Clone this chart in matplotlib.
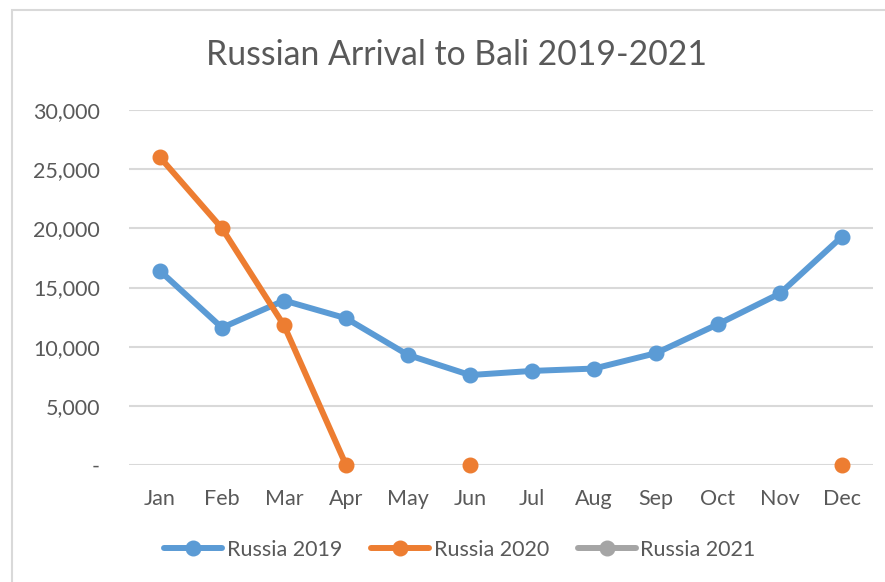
import numpy as np
import matplotlib
matplotlib.use('Agg')
import matplotlib.pyplot as plt
from matplotlib.patches import Rectangle
from matplotlib.ticker import FuncFormatter

plt.rcParams['font.family'] = ['Lato', 'DejaVu Sans']

months = ['Jan', 'Feb', 'Mar', 'Apr', 'May', 'Jun',
          'Jul', 'Aug', 'Sep', 'Oct', 'Nov', 'Dec']
russia_2019 = [16400, 11600, 13900, 12400, 9300, 7600,
               7950, 8150, 9450, 11900, 14500, 19300]
russia_2020 = [26000, 20000, 11800, 0, np.nan, 0,
               np.nan, np.nan, np.nan, np.nan, np.nan, 0]
russia_2021 = [np.nan] * 12

series = [
    ('Russia 2019', russia_2019, '#5B9BD5'),
    ('Russia 2020', russia_2020, '#ED7D31'),
    ('Russia 2021', russia_2021, '#A5A5A5'),
]

W, H = 885, 582
fig = plt.figure(figsize=(W / 100, H / 100), dpi=100)
fig.patch.set_facecolor('white')

# chart frame
fig.patches.append(Rectangle((12 / W, -0.1), 1.2, (H - 10) / H + 0.1,
                             transform=fig.transFigure, fill=False,
                             edgecolor='#D9D9D9', linewidth=1.5))

ax = fig.add_axes([129 / W, (H - 465) / H, (873 - 129) / W, (465 - 110) / H])

x = np.arange(len(months))
for label, vals, color in series:
    ax.plot(x, vals, color=color, linewidth=4.3, marker='o',
            markersize=10.5, label=label, solid_capstyle='round', clip_on=False)

ax.set_xlim(-0.5, 11.5)
ax.set_ylim(0, 30000)
ax.set_yticks(range(0, 30001, 5000))
ax.yaxis.set_major_formatter(FuncFormatter(
    lambda v, p: '-' if v == 0 else f'{int(v):,}'))
ax.set_xticks(x)
ax.set_xticklabels(months)

ax.grid(axis='y', color='#D9D9D9', linewidth=1.5)
ax.set_axisbelow(True)
for s in ax.spines.values():
    s.set_visible(False)
ax.tick_params(length=0, labelsize=15.5, colors='#595959')
ax.tick_params(axis='y', pad=21)
ax.tick_params(axis='x', pad=17)

fig.text(456 / W, (H - 55) / H, 'Russian Arrival to Bali 2019-2021',
         ha='center', va='center', fontsize=24.3, color='#595959')

fig.legend(loc='center', bbox_to_anchor=(460 / W, (H - 550) / H), ncol=3,
           frameon=False, fontsize=15.5, labelcolor='#595959',
           handlelength=2.7, handletextpad=0.2, columnspacing=1.35)

fig.savefig('out.png', dpi=100)
